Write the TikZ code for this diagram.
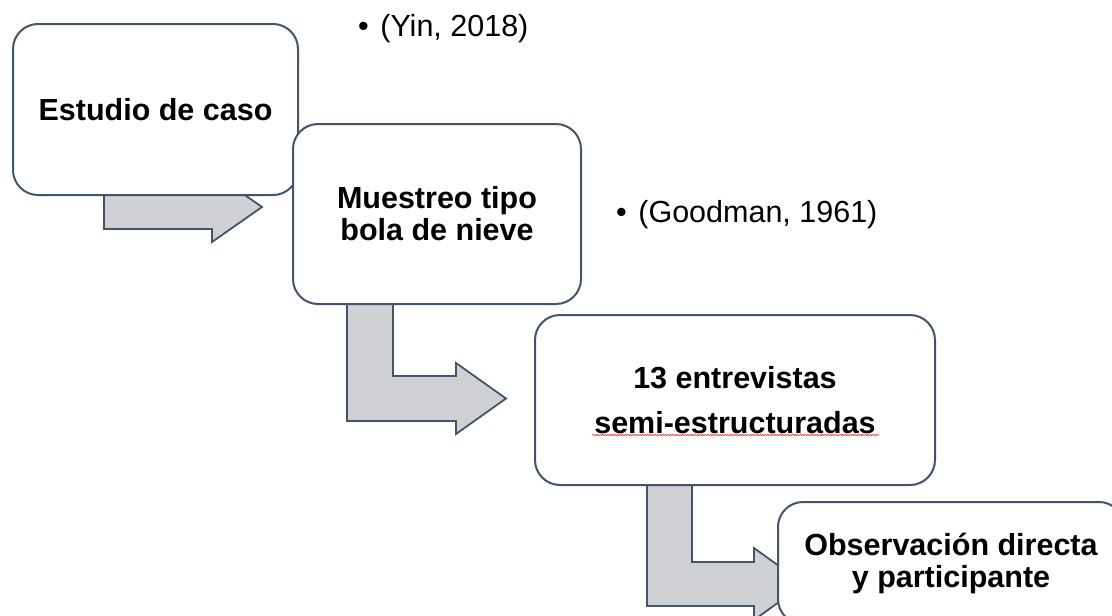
\documentclass[tikz,border=0pt]{standalone}
\usepackage{fontspec}
\setmainfont{Liberation Sans}
\usetikzlibrary{decorations.pathmorphing}
\definecolor{borde}{RGB}{68,84,106}
\definecolor{gris}{RGB}{207,209,213}

\begin{document}
\begin{tikzpicture}[x=1pt, y=-1pt,
		caja/.style={draw=borde, line width=2pt, fill=white, rounded corners=25pt, align=center, inner sep=0pt, font=\fontsize{30.5}{32}\selectfont\bfseries},
		flecha/.style={draw=borde, line width=1.8pt, fill=gris, line join=miter},
		cita/.style={anchor=west, inner sep=0pt, font=\fontsize{30.5}{32}\selectfont}]
		\path[use as bounding box, clip] (0,0) rectangle (1112,616);

		\draw[flecha] (104,150) -- (150,150) -- (150,185) -- (212,185) -- (212,172) -- (262,207) -- (212,242) -- (212,229) -- (104,229) -- cycle;
		\draw[flecha] (347,290) -- (393,290) -- (393,376) -- (456,376) -- (456,363) -- (506,398.5) -- (456,434) -- (456,421) -- (347,421) -- cycle;
		\draw[flecha] (647,470) -- (692,470) -- (692,562) -- (754,562) -- (754,548) -- (804,584) -- (754,620) -- (754,606) -- (647,606) -- cycle;

		\draw (155.5,109.5) node [caja, minimum width=285pt, minimum height=171pt] (caso) {Estudio de caso};
		\draw (437,214) node [caja, minimum width=288pt, minimum height=180pt] (muestreo) {Muestreo tipo\\bola de nieve};
		\draw (735,400) node [caja, minimum width=400pt, minimum height=170pt] (entrevistas) {13 entrevistas\\[13pt]semi-estructuradas};
		\draw (951,563) node [caja, minimum width=346pt, minimum height=122pt] (observacion) {Observación directa\\y participante};

		\draw (358,29) node [cita] (yin) {\textbullet\hspace{11.5pt}(Yin, 2018)};
		\draw (616,214.5) node [cita] (goodman) {\textbullet\hspace{11.5pt}(Goodman, 1961)};

		\draw[red!75, line width=0.6pt, decorate, decoration={snake, amplitude=0.7pt, segment length=2.5pt}] (592,435) -- (879,435);
	\end{tikzpicture}
\end{document}
